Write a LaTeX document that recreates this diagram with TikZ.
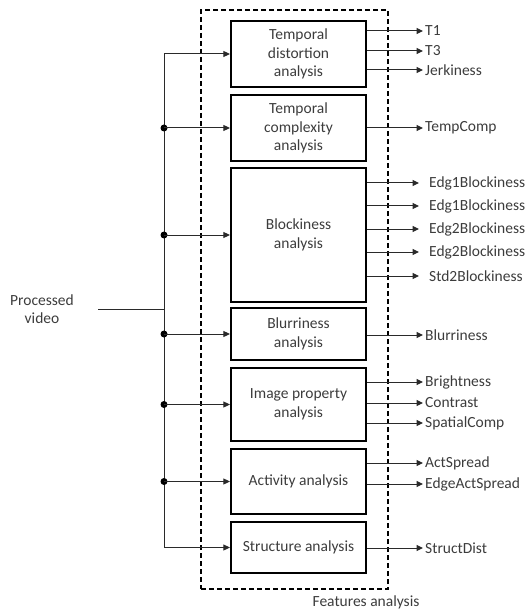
\documentclass[tikz,border=0pt]{standalone}
\usepackage{fontspec}
\setmainfont{Carlito}
\usetikzlibrary{arrows.meta}
\definecolor{txt}{HTML}{3C3C3C}
\definecolor{ln}{HTML}{2A2A2A}
\begin{document}
\begin{tikzpicture}[x=1pt,y=-1pt,
  every node/.style={font=\fontsize{15.5}{18.5}\selectfont, text=txt},
  box/.style={draw=black, line width=2.2pt, minimum width=135pt, align=center, inner sep=0pt},
  conn/.style={draw=ln, line width=1pt},
  arr/.style={conn, -{Triangle[length=6.5pt,width=6pt]}},
  lab/.style={anchor=west, inner xsep=2pt, inner ysep=0pt},
  labw/.style={anchor=west, inner xsep=6pt, inner ysep=0pt},
  frame/.style={draw=black, line width=1.8pt, dash pattern=on 5pt off 3pt, minimum width=187pt, minimum height=579pt, inner sep=0pt},
  dot/.style={circle, fill=black, inner sep=0pt, minimum size=7pt}
]
\useasboundingbox (0,0) rectangle (526,612);

% frame
\node[frame] (fa) at (294.5,299.5) {};
\node (falab) at (366,602) {Features analysis};

% boxes
\node[box, minimum height=66pt]  (b1) at (298.5,54)    {Temporal\\distortion\\analysis};
\node[box, minimum height=66pt]  (b2) at (298.5,128)   {Temporal\\complexity\\analysis};
\node[box, minimum height=134pt] (b3) at (298.5,235)   {Blockiness\\analysis};
\node[box, minimum height=52pt]  (b4) at (298.5,334)   {Blurriness\\analysis};
\node[box, minimum height=73pt]  (b5) at (298.5,404.5) {Image property\\analysis};
\node[box, minimum height=65pt]  (b6) at (298.5,481.5) {Activity analysis};
\node[box, minimum height=51pt]  (b7) at (298.5,547.5) {Structure analysis};

% input
\node[align=center, inner sep=0pt] (pv) at (42,309) {Processed\\video};
\coordinate (pin) at (98,309);
\coordinate (jin) at (164,309);
\draw[conn] (pin) -- (jin);

% bus junctions
\coordinate (j1) at (164,54);
\coordinate (j2) at (164,128);
\coordinate (j3) at (164,235);
\coordinate (j4) at (164,334);
\coordinate (j5) at (164,404.5);
\coordinate (j6) at (164,481.5);
\coordinate (j7) at (164,547.5);
\draw[conn] (j1) -- (j7);
\foreach \j in {2,3,4,5,6} \node[dot] at (j\j) {};
\foreach \j in {1,...,7} \draw[arr] (j\j) -- (b\j.west);

% outputs
\node[lab] (o1) at (423,31) {T1};
\node[lab] (o2) at (423,51) {T3};
\node[lab] (o3) at (423,70) {Jerkiness};
\node[lab] (o4) at (423,128) {TempComp};
\node[labw] (o5) at (423,183) {Edg1Blockiness};
\node[labw] (o6) at (423,206) {Edg1Blockiness};
\node[labw] (o7) at (423,229) {Edg2Blockiness};
\node[labw] (o8) at (423,252) {Edg2Blockiness};
\node[labw] (o9) at (423,276) {Std2Blockiness};
\node[lab] (o10) at (423,335) {Blurriness};
\node[lab] (o11) at (423,382) {Brightness};
\node[lab] (o12) at (423,403) {Contrast};
\node[lab] (o13) at (423,423) {SpatialComp};
\node[lab] (o14) at (423,463) {ActSpread};
\node[lab] (o15) at (423,484) {EdgeActSpread};
\node[lab] (o16) at (423,548) {StructDist};

\foreach \o in {1,2,3} \draw[arr] (b1.east |- o\o.west) -- (o\o.west);
\draw[arr] (b2.east |- o4.west) -- (o4.west);
\foreach \o in {5,...,9} \draw[arr] (b3.east |- o\o.west) -- ([xshift=-4pt]o\o.west);
\draw[arr] (b4.east |- o10.west) -- (o10.west);
\foreach \o in {11,12,13} \draw[arr] (b5.east |- o\o.west) -- (o\o.west);
\foreach \o in {14,15} \draw[arr] (b6.east |- o\o.west) -- (o\o.west);
\draw[arr] (b7.east |- o16.west) -- (o16.west);
\end{tikzpicture}
\end{document}
